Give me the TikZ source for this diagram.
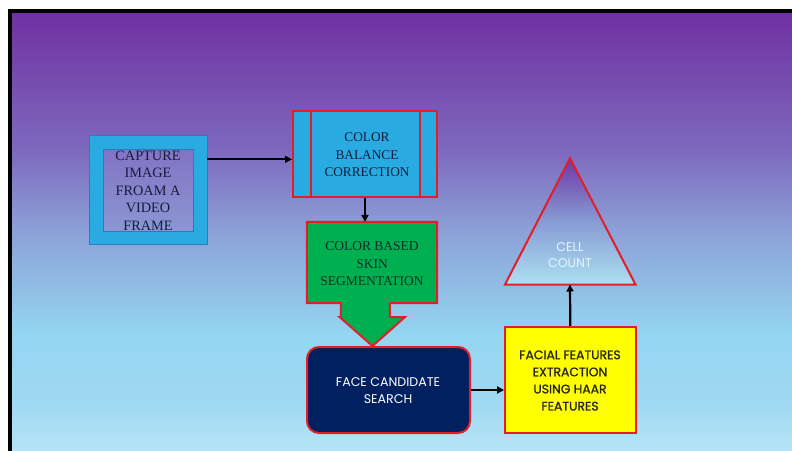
\documentclass[tikz,border=0pt]{standalone}
\usepackage{fontspec}
\setmainfont{Liberation Serif}
\newfontfamily\popfont{Poppins}
\newfontfamily\popbold{Poppins}[FakeBold=1.2]
\usetikzlibrary{arrows.meta,calc}
\definecolor{bgA}{RGB}{112,48,160}
\definecolor{bgB}{RGB}{125,105,190}
\definecolor{bgC}{RGB}{140,160,215}
\definecolor{bgD}{RGB}{148,214,240}
\definecolor{bgE}{RGB}{158,216,242}
\definecolor{bgF}{RGB}{182,228,246}
\definecolor{cyanbox}{RGB}{41,171,226}
\definecolor{cyanedge}{RGB}{35,125,190}
\definecolor{innerA}{RGB}{130,115,195}
\definecolor{innerB}{RGB}{140,150,212}
\definecolor{redline}{RGB}{228,30,40}
\definecolor{greenbox}{RGB}{0,176,80}
\definecolor{navybox}{RGB}{0,32,96}
\definecolor{yellowbox}{RGB}{255,255,0}
\definecolor{serifnavy}{RGB}{22,28,60}
\definecolor{greentext}{RGB}{12,45,38}
\definecolor{triA}{RGB}{110,55,165}
\definecolor{triB}{RGB}{135,155,212}
\definecolor{triC}{RGB}{172,224,242}
\definecolor{celltext}{RGB}{228,245,252}
\pgfdeclareverticalshading{bgshade}{100bp}{color(0bp)=(bgF); color(25bp)=(bgF); color(30.7bp)=(bgE); color(38.1bp)=(bgD); color(50.1bp)=(bgC); color(59.2bp)=(bgB); color(75bp)=(bgA); color(100bp)=(bgA)}
\tikzset{
  arr/.style={draw=black, line width=2.2pt, -{Triangle[length=7pt,width=7pt]}},
  redbox/.style={draw=redline, line width=2pt},
  serifTxt/.style={align=center, font=\fontsize{13.5}{17.5}\selectfont},
}
\begin{document}
\begin{tikzpicture}[x=1pt,y=-1pt]
\useasboundingbox (0,0) rectangle (792,450);
\fill[white] (0,0) rectangle (792,450);
% background panel
\fill[shading=bgshade] (10,11) rectangle (800,450);
\draw[black, line width=3.5pt] (800,11) -- (10,11) -- (10,460);

% capture box
\node[draw=cyanedge, fill=cyanbox, line width=0.8pt, minimum width=118, minimum height=109, inner sep=0pt] (cap) at (148,189.5) {};
\node[draw=cyanedge, line width=0.8pt, top color=innerA, bottom color=innerB, minimum width=90, minimum height=82, inner sep=0pt] (capin) at (148,190) {};
\node[align=center, text=serifnavy, font=\fontsize{14.3}{17.5}\selectfont, inner sep=0pt] (captxt) at (148,190.3) {CAPTURE\\IMAGE\\FROAM A\\VIDEO\\FRAME};

% color balance correction
\node[redbox, fill=cyanbox, minimum width=144, minimum height=86, inner sep=0pt] (cb) at (365,154) {};
\draw[redbox] ($(cb.north west)+(19,0)$) -- ($(cb.south west)+(19,0)$);
\draw[redbox] ($(cb.north east)+(-18,0)$) -- ($(cb.south east)+(-18,0)$);
\node[serifTxt, text=serifnavy, font=\fontsize{13.3}{17.5}\selectfont, inner sep=0pt] (cbtxt) at (367,155) {COLOR\\BALANCE\\CORRECTION};

% green down-arrow shape
\node[minimum width=130, minimum height=81, inner sep=0pt] (gbody) at (372,262.5) {};
\coordinate (gtip) at (372.5,346);
\draw[redbox, fill=greenbox, line join=miter]
  (gbody.north west) -- (gbody.north east) -- (gbody.south east)
  -- ($(gbody.south west)+(83,0)$) -- ($(gbody.south west)+(83,14)$)
  -- ($(gbody.south west)+(98,14)$) -- (gtip)
  -- ($(gbody.south west)+(33,14)$) -- ($(gbody.south west)+(34,14)$)
  -- ($(gbody.south west)+(34,0)$) -- (gbody.south west) -- cycle;
\node[serifTxt, text=greentext, inner sep=0pt] (gtxt) at (372,263.7) {COLOR BASED\\SKIN\\SEGMENTATION};

% face candidate search
\node[redbox, fill=navybox, rounded corners=12pt, minimum width=163, minimum height=86, inner sep=0pt] (face) at (388.5,390) {};
\node[align=center, text=white, font=\popfont\fontsize{12.6}{17.3}\selectfont, inner sep=0pt] (facetxt) at (388,390.8) {FACE CANDIDATE\\SEARCH};

% facial features extraction
\node[redbox, fill=yellowbox, minimum width=130.5, minimum height=106.5, inner sep=0pt] (feat) at (570.3,380) {};
\node[align=center, text=black!85, font=\popbold\fontsize{12.4}{17.1}\selectfont, inner sep=0pt] (feattxt) at (570,380.5) {FACIAL FEATURES\\EXTRACTION\\USING HAAR\\FEATURES};

% cell count triangle
\coordinate (tapex) at (570,158.3);
\coordinate (tleft) at (505,284.5);
\coordinate (tright) at (635.5,284.5);
\coordinate (tbase) at (570,284.5);
\draw[redbox, line join=miter, top color=triA, bottom color=triC, middle color=triB] (tapex) -- (tright) -- (tleft) -- cycle;
\node[align=center, text=celltext, font=\popfont\fontsize{12.6}{16.5}\selectfont, inner sep=0pt] (celltxt) at (570,255) {CELL\\COUNT};

% connectors
\draw[arr] (cap.east |- 0,159.3) -- (cb.west |- 0,159.3);
\draw[arr] (cb.south) -- (cb.south |- gbody.north);
\draw[arr] (face.east |- 0,390) -- (feat.west |- 0,390);
\draw[arr] (feat.north) -- (tbase);
\end{tikzpicture}
\end{document}
